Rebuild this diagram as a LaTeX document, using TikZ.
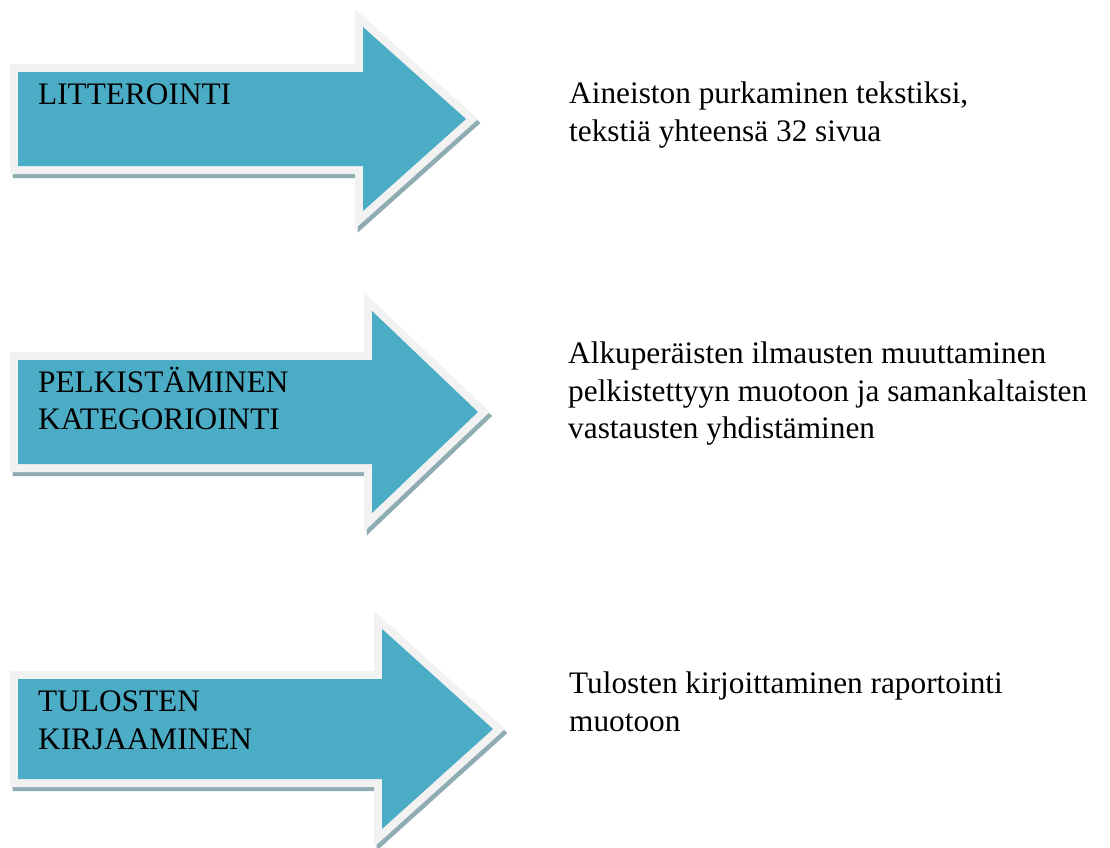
\documentclass[tikz,border=0pt]{standalone}
\usepackage{fontspec}
\setmainfont{Liberation Serif}
\definecolor{arrowteal}{HTML}{4BACC6}
\definecolor{arrowrim}{HTML}{F2F2F2}
\definecolor{arrowshade}{HTML}{8EACB2}
\begin{document}
\begin{tikzpicture}[x=1pt, y=-1pt,
  rim/.style={draw=arrowrim, line width=16pt, line join=miter},
  shade/.style={fill=arrowshade, draw=arrowshade, line width=16pt, line join=miter, shift={(2.5,4)}},
  lbl/.style={inner sep=0pt, anchor=base west, align=left, font=\fontsize{31.3}{37.5}\selectfont}]
\useasboundingbox (0,0) rectangle (1110,847);
% three arrows: centre y / half body / head x / half head / tip x
\foreach \y/\h/\hx/\hh/\tx in {119/47/363/92/466, 412/52/372/101/478, 729/50/382/100/493} {
  \path[shade] (18,\y-\h) -- (\hx,\y-\h) -- (\hx,\y-\hh) -- (\tx,\y) -- (\hx,\y+\hh) -- (\hx,\y+\h) -- (18,\y+\h) -- cycle;
  \path[rim] (18,\y-\h) -- (\hx,\y-\h) -- (\hx,\y-\hh) -- (\tx,\y) -- (\hx,\y+\hh) -- (\hx,\y+\h) -- (18,\y+\h) -- cycle;
  \fill[arrowteal] (18,\y-\h) -- (\hx,\y-\h) -- (\hx,\y-\hh) -- (\tx,\y) -- (\hx,\y+\hh) -- (\hx,\y+\h) -- (18,\y+\h) -- cycle;
}
% base anchor sits on the last line
\node[lbl] (litterointi) at (38,104) {LITTEROINTI};
\node[lbl] (pelkistaminen) at (38,429.5) {PELKISTÄMINEN\\KATEGORIOINTI};
\node[lbl] (kirjaaminen) at (38,749) {TULOSTEN\\KIRJAAMINEN};
\node[lbl] (aineisto) at (569,141) {Aineiston purkaminen tekstiksi,\\tekstiä yhteensä 32 sivua};
\node[lbl] (ilmaukset) at (568,438.5) {Alkuperäisten ilmausten muuttaminen\\pelkistettyyn muotoon ja samankaltaisten\\vastausten yhdistäminen};
\node[lbl] (raportointi) at (569,731) {Tulosten kirjoittaminen raportointi\\muotoon};
\end{tikzpicture}
\end{document}
